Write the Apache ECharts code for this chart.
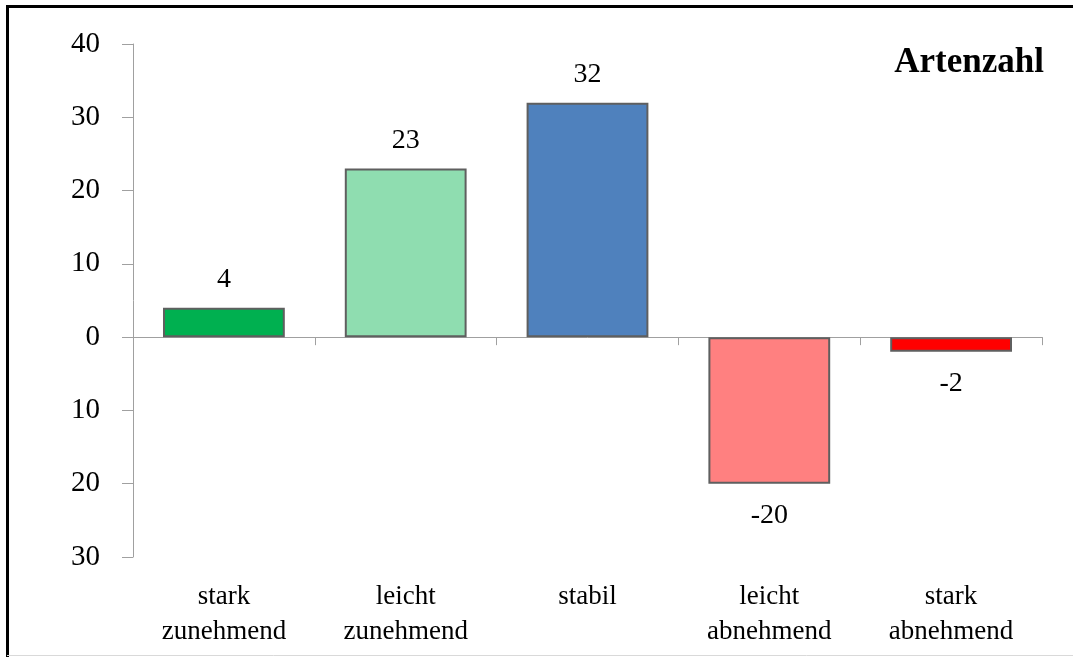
<!DOCTYPE html>
<html><head><meta charset="utf-8">
<script src="https://cdn.jsdelivr.net/npm/echarts@6/dist/echarts.min.js"></script>
<style>html,body{margin:0;padding:0;background:#fff}#c{width:1073px;height:657px}</style>
</head><body><div id="c"></div>
<script>
const categories = ['stark\nzunehmend', 'leicht\nzunehmend', 'stabil', 'leicht\nabnehmend', 'stark\nabnehmend'];
const values = [4, 23, 32, -20, -2];
const barColors = ['#00B050', '#8FDDB0', '#4F81BD', '#FF8080', '#FF0000'];
const title = 'Artenzahl';
const yMin = -30, yMax = 40, yStep = 10;

const font = 'Liberation Serif';
const chart = echarts.init(document.getElementById('c'), null, {renderer: 'canvas'});
chart.setOption({
  animation: false,
  backgroundColor: '#fff',
  title: {
    text: title, right: 24, top: 40,
    textStyle: {fontFamily: font, fontSize: 35, fontWeight: 'bold', color: '#000'}
  },
  grid: {left: 133, right: 31, top: 44, bottom: 100, containLabel: false},
  xAxis: [{
    type: 'category', data: categories, position: 'bottom',
    axisLine: {onZero: true, lineStyle: {color: '#A0A0A0', width: 1}},
    axisTick: {show: true, length: 8, lineStyle: {color: '#A0A0A0'}},
    axisLabel: {show: false}
  }, {
    type: 'category', data: categories, position: 'bottom',
    axisLine: {show: false, onZero: false},
    axisTick: {show: false},
    axisLabel: {fontFamily: font, fontSize: 27, color: '#000', lineHeight: 35, margin: 22}
  }],
  yAxis: {
    type: 'value', min: yMin, max: yMax, interval: yStep,
    axisLine: {show: true, lineStyle: {color: '#A0A0A0'}},
    axisTick: {show: true, length: 11, lineStyle: {color: '#A0A0A0'}},
    splitLine: {show: false},
    axisLabel: {fontFamily: font, fontSize: 29, color: '#000', margin: 33,
      formatter: v => String(Math.abs(v))}
  },
  series: [{
    type: 'bar', xAxisIndex: 0,
    barCategoryGap: '33%',
    data: values.map((v, i) => ({
      value: v,
      itemStyle: {color: barColors[i], borderColor: '#5F5F5F', borderWidth: 2},
      label: {position: v >= 0 ? 'top' : 'bottom', distance: v >= 0 ? 14 : 18}
    })),
    label: {show: true, fontFamily: font, fontSize: 28, color: '#000'}
  }],
  graphic: [
    {type: 'line', shape: {x1: 7.5, y1: 6.5, x2: 1073, y2: 6.5}, style: {stroke: '#000', lineWidth: 3}},
    {type: 'line', shape: {x1: 7.5, y1: 5, x2: 7.5, y2: 657}, style: {stroke: '#000', lineWidth: 3}},
    {type: 'line', shape: {x1: 7, y1: 655.5, x2: 1073, y2: 655.5}, style: {stroke: '#D9D9D9', lineWidth: 1}}
  ]
});
</script></body></html>
